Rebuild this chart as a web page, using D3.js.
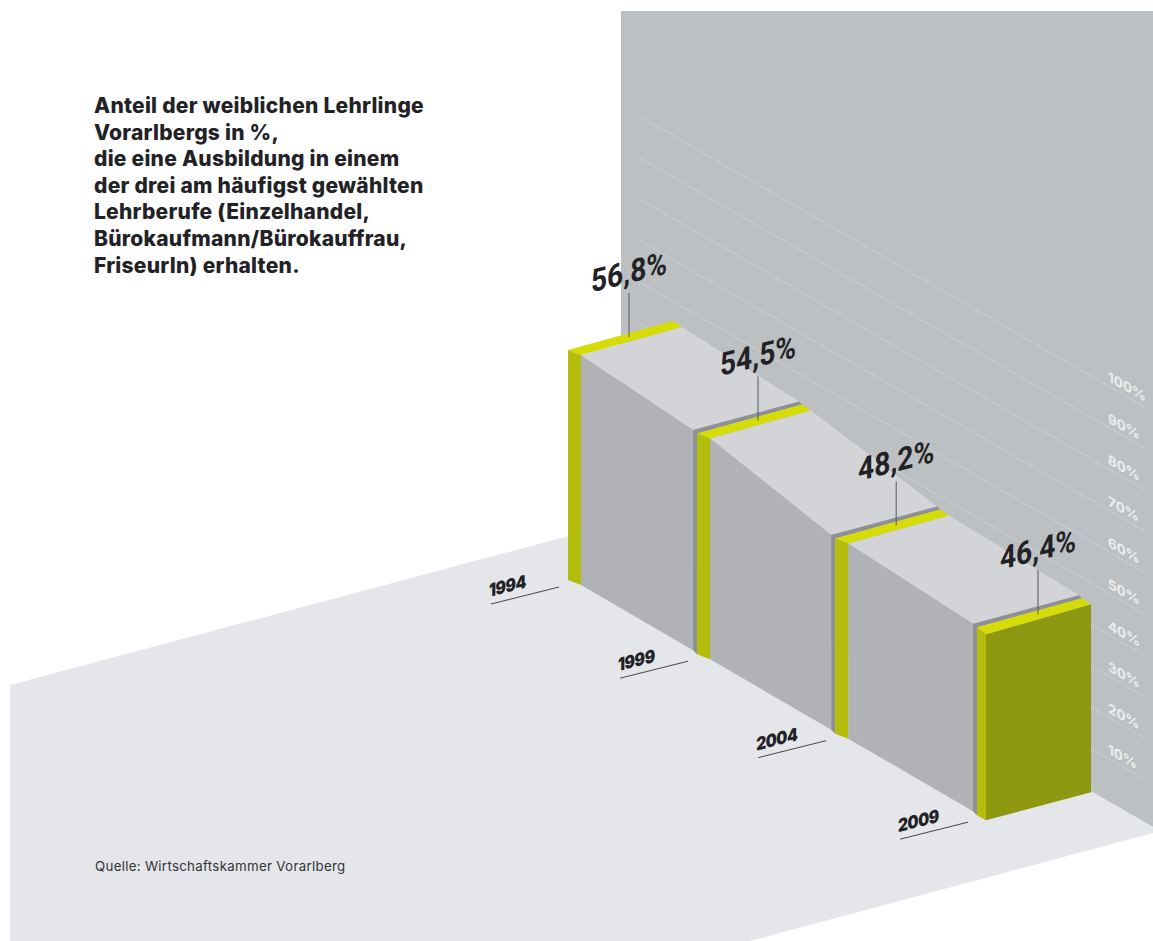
<!DOCTYPE html>
<html lang="de">
<head>
<meta charset="utf-8">
<title>Anteil der weiblichen Lehrlinge Vorarlbergs</title>
<script src="https://cdn.jsdelivr.net/npm/d3@7"></script>
<style>
  html, body { margin: 0; background: #fff; }
  svg { display: block; }
</style>
</head>
<body>
<svg id="chart" width="1153" height="941"></svg>
<script>
// Chart data
const years = [1994, 1999, 2004, 2009];
const shares = [56.8, 54.5, 48.2, 46.4];
const shareLabels = ["56,8%", "54,5%", "48,2%", "46,4%"];
const wallTicks = [10, 20, 30, 40, 50, 60, 70, 80, 90, 100];
const titleLines = [
  "Anteil der weiblichen Lehrlinge",
  "Vorarlbergs in %,",
  "die eine Ausbildung in einem",
  "der drei am häufigst gewählten",
  "Lehrberufe (Einzelhandel,",
  "Bürokaufmann/Bürokauffrau,",
  "FriseurIn) erhalten."
];
const sourceText = "Quelle: Wirtschaftskammer Vorarlberg";

const colors = {
  wall: "#bdc0c2",
  floor: "#e5e6ea",
  top: "#d2d4d7",
  side: "#b0b2b5",
  shade: "#8f9094",
  band: "#d5dc08",
  post: "#b4bc0c",
  front: "#8e9710",
  ink: "#222226",
  grid: "#dcdedf"
};

const svg = d3.select("#chart");
const outline = d3.line();
const polygon = pts => outline(pts) + "Z";

// Isometric projection: years run into the room along the floor, percentages rise vertically.
const slope = 0.575;
const depth = d3.scalePow().exponent(1.05).domain([0, 15]).range([568, 977]);
const xYear = year => depth(year - years[0]);
const yGround = d3.scaleLinear().domain([568, 977]).range([580, 580 + 409 * slope]);
const barHeight = d3.scaleLinear().domain([0, 100]).range([0, 405]);
const wallY = d3.scaleLinear().domain([0, 100]).range([821, 407]);

const blocks = years.map((year, i) => {
  const x = xYear(year);
  const base = yGround(x);
  return { year, value: shares[i], label: shareLabels[i], x, base, top: base - barHeight(shares[i]), last: i === years.length - 1 };
});

// Back wall
svg.append("path")
  .attr("d", polygon([[621, 11], [1153, 11], [1153, 827], [621, 522]]))
  .attr("fill", colors.wall);

// Wall gridlines, each sloping down toward its label at the right edge
const gridRight = 1145, gridLeft = 638;
svg.append("g").selectAll("line").data(wallTicks).join("line")
  .attr("x1", gridLeft)
  .attr("y1", d => wallY(d) - (gridRight - gridLeft) * slope)
  .attr("x2", gridRight)
  .attr("y2", d => wallY(d))
  .attr("stroke", colors.grid)
  .attr("stroke-width", 1)
  .attr("stroke-dasharray", "1.5 1.5");

svg.append("g").selectAll("text").data(wallTicks).join("text")
  .attr("transform", d => `translate(${gridRight - 37},${wallY(d) - 26}) skewY(29)`)
  .attr("font-family", "Inter, sans-serif")
  .attr("font-weight", 700)
  .attr("font-size", 13.5)
  .attr("fill", "#eceded")
  .text(d => d + "%");

// Floor
svg.append("path")
  .attr("d", polygon([[10, 685], [621, 522], [1153, 827], [1153, 833], [750, 941], [10, 941]]))
  .attr("fill", colors.floor);

// Year markers on the floor
const yearMarks = svg.append("g").selectAll("g").data(blocks).join("g");
yearMarks.append("line")
  .attr("x1", d => d.x - 77).attr("y1", d => d.base + 24)
  .attr("x2", d => d.x - 9).attr("y2", d => d.base + 7)
  .attr("stroke", "#45464a").attr("stroke-width", 1);
yearMarks.append("text")
  .attr("transform", d => `translate(${d.x - 79},${d.base + 17}) skewY(-14) scale(0.86,1)`)
  .attr("font-family", "Inter, sans-serif")
  .attr("font-weight", 900)
  .attr("font-size", 18)
  .attr("letter-spacing", -0.5)
  .attr("fill", colors.ink)
  .text(d => d.year);

// Blocks, from the back of the room to the front
const layers = svg.append("g");
blocks.forEach((b, i) => {
  const next = blocks[i + 1];
  const g = layers.append("g");
  const postW = b.last ? 9 : 13;
  const innerDrop = b.last ? 7 : 5;
  const inner = [b.x + postW, b.top + innerDrop];
  const tip = [b.x + 114, b.top - 23];

  if (next) {
    const sideEnd = next.x - 4;
    // Slanted top surface joining this value to the next one
    g.append("path")
      .attr("d", polygon([inner, tip, [next.x + 102, next.top - 32], [sideEnd, next.top - 3.5]]))
      .attr("fill", colors.top);
    // Side face
    g.append("path")
      .attr("d", polygon([inner, [sideEnd, next.top - 3.5], [sideEnd, next.base - 4], [inner[0], b.base + 5]]))
      .attr("fill", colors.side);
  }

  if (i > 0) {
    // Shadow edge behind this block's frame, cast on the block in front of it
    g.append("path")
      .attr("d", polygon([[b.x - 4, b.top - 3.5], [b.x + 102, b.top - 32], [b.x + 105, b.top - 29], [b.x, b.top], [b.x, b.base], [b.x - 4, b.base - 4]]))
      .attr("fill", colors.shade);
  }

  if (b.last) {
    g.append("path")
      .attr("d", polygon([inner, tip, [tip[0], b.base - 23], [inner[0], b.base + 5]]))
      .attr("fill", colors.front);
  }
  // Frame: top band and upright post
  g.append("path")
    .attr("d", polygon([[b.x, b.top], [b.x + 105, b.top - 29], tip, inner]))
    .attr("fill", colors.band);
  g.append("path")
    .attr("d", polygon([[b.x, b.top], inner, [inner[0], b.base + 5], [b.x, b.base]]))
    .attr("fill", colors.post);
});

// Value leaders and labels
const valueMarks = svg.append("g").selectAll("g").data(blocks).join("g");
valueMarks.append("line")
  .attr("x1", d => d.x + 61).attr("y1", d => d.top - 13)
  .attr("x2", d => d.x + 61).attr("y2", d => d.top - 57)
  .attr("stroke", "#55565a").attr("stroke-width", 1);
valueMarks.append("text")
  .attr("transform", d => `translate(${d.x + 61},${d.top - 67}) skewY(-14) scale(0.88,1)`)
  .attr("text-anchor", "middle")
  .attr("font-family", "Roboto, sans-serif")
  .attr("font-weight", 700)
  .attr("font-size", 32)
  .attr("fill", colors.ink)
  .text(d => d.label);

// Heading
svg.append("g").selectAll("text").data(titleLines).join("text")
  .attr("x", 94)
  .attr("y", (d, i) => 113 + i * 26.6)
  .attr("font-family", "Inter, sans-serif")
  .attr("font-weight", 800)
  .attr("font-size", 21)
  .attr("letter-spacing", 0.25)
  .attr("fill", colors.ink)
  .text(d => d);

// Source line
svg.append("text")
  .attr("x", 95).attr("y", 871)
  .attr("font-family", "Inter, sans-serif")
  .attr("font-size", 13.3)
  .attr("letter-spacing", 0.3)
  .attr("fill", "#333338")
  .text(sourceText);
</script>
</body>
</html>
